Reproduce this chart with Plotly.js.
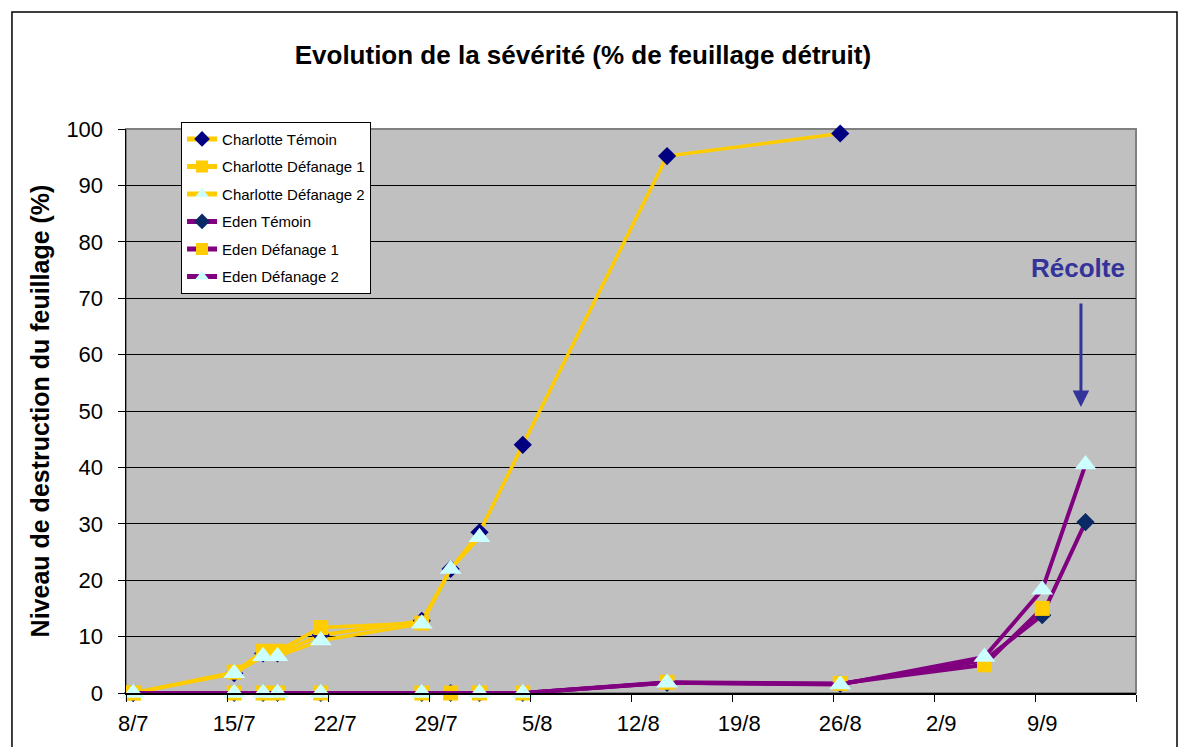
<!DOCTYPE html>
<html>
<head>
<meta charset="utf-8">
<script src="https://cdn.plot.ly/plotly-3.0.1.min.js"></script>
<style>html,body{margin:0;padding:0;background:#fff;}#chart{width:1188px;height:747px;}</style>
</head>
<body>
<div id="chart"></div>
<script>
// Dates of observation
const datesCharlotteTemoin = ['2009-07-08','2009-07-15','2009-07-17','2009-07-18','2009-07-21','2009-07-28','2009-07-30','2009-08-01','2009-08-04','2009-08-14','2009-08-26'];
const valCharlotteTemoin   = [0, 3.5, 7, 7, 10.3, 12.8, 22, 28.5, 44, 95.2, 99.2];

const datesCharlotteDef1 = ['2009-07-08','2009-07-15','2009-07-17','2009-07-18','2009-07-21','2009-07-28'];
const valCharlotteDef1   = [0, 3.7, 7.4, 7.4, 11.6, 12.4];

const datesCharlotteDef2 = ['2009-07-08','2009-07-15','2009-07-17','2009-07-18','2009-07-21','2009-07-28','2009-07-30','2009-08-01'];
const valCharlotteDef2   = [0, 3.5, 6.5, 6.5, 9.3, 12.3, 22, 27.6];

const datesEdenTemoin = ['2009-07-08','2009-07-15','2009-07-17','2009-07-18','2009-07-21','2009-07-28','2009-07-30','2009-08-01','2009-08-04','2009-08-14','2009-08-26','2009-09-05','2009-09-09','2009-09-12'];
const valEdenTemoin   = [0, 0, 0, 0, 0, 0, 0, 0, 0, 1.8, 1.6, 5.8, 13.8, 30.3];

const datesEdenDef1 = ['2009-07-08','2009-07-15','2009-07-17','2009-07-18','2009-07-21','2009-07-28','2009-07-30','2009-08-01','2009-08-04','2009-08-14','2009-08-26','2009-09-05','2009-09-09'];
const valEdenDef1   = [0, 0, 0, 0, 0, 0, 0, 0, 0, 1.9, 1.7, 5.0, 15.0];

const datesEdenDef2 = ['2009-07-08','2009-07-15','2009-07-17','2009-07-18','2009-07-21','2009-07-28','2009-08-01','2009-08-04','2009-08-14','2009-08-26','2009-09-05','2009-09-09','2009-09-12'];
const valEdenDef2   = [0, 0, 0, 0, 0, 0, 0, 0, 1.8, 1.5, 6.4, 18.3, 40.5];

const seriesNames = ['Charlotte Témoin','Charlotte Défanage 1','Charlotte Défanage 2','Eden Témoin','Eden Défanage 1','Eden Défanage 2'];

const tickDates  = ['2009-07-08','2009-07-15','2009-07-22','2009-07-29','2009-08-05','2009-08-12','2009-08-19','2009-08-26','2009-09-02','2009-09-09'];
const tickLabels = ['8/7','15/7','22/7','29/7','5/8','12/8','19/8','26/8','2/9','9/9'];

const yellow = '#FFCC00', purple = '#800080';
const diamond = (c) => ({symbol:'diamond', size:14, color:c, line:{width:0}});
const square = {symbol:'square', size:15, color:'#FFCC00', line:{width:0}};
const tri = {symbol:'triangle-up', size:19, color:'#CCFFFF', line:{width:0}};

function tr(i, x, y, lc, lw, mk){
  return {x:x, y:y, type:'scatter', mode:'lines+markers', name:seriesNames[i],
    legendgroup:'g'+i, line:{color:lc, width:lw}, marker:mk, cliponaxis:false};
}

const data = [
  tr(0, datesCharlotteTemoin, valCharlotteTemoin, yellow, 3.5, diamond('#000080')),
  tr(1, datesCharlotteDef1, valCharlotteDef1, yellow, 3.5, square),
  tr(2, datesCharlotteDef2, valCharlotteDef2, yellow, 3.5, tri),
  tr(3, datesEdenTemoin, valEdenTemoin, purple, 4, diamond('#0A2A66')),
  tr(4, datesEdenDef1, valEdenDef1, purple, 4, square),
  tr(5, datesEdenDef2, valEdenDef2, purple, 4, tri)
];

const F = 'Liberation Sans, Arial, sans-serif';
const layout = {
  width:1188, height:747,
  margin:{l:126, r:52, t:129, b:54},
  paper_bgcolor:'#ffffff', plot_bgcolor:'#C0C0C0',
  font:{family:F, color:'#000', size:22},
  title:{text:'<b>Evolution de la sévérité (% de feuillage détruit)</b>', font:{family:F, size:26, color:'#000'},
    xref:'container', yref:'container', x:0.4907, y:0.926, xanchor:'center', yanchor:'middle'},
  showlegend:true,
  legend:{x:0.0545, y:1.013, xanchor:'left', yanchor:'top', bgcolor:'#ffffff', bordercolor:'#000', borderwidth:1,
    font:{family:F, size:15, color:'#000'}, tracegroupgap:5, traceorder:'grouped', itemsizing:'constant'},
  xaxis:{type:'date', range:['2009-07-07 12:00','2009-09-15 12:00'],
    tickvals:tickDates, ticktext:tickLabels, ticks:'', showgrid:false, zeroline:false,
    showline:true, linecolor:'#000', linewidth:1.5, ticklabelstandoff:10,
    tickfont:{family:F, size:22, color:'#000'},
    minor:{tick0:'2009-07-07 12:00', dtick:7*86400000, ticks:'outside', ticklen:7, tickcolor:'#000', tickwidth:1, showgrid:false}},
  yaxis:{range:[0,100], dtick:10, ticks:'outside', ticklen:7, tickcolor:'#000',
    showgrid:true, gridcolor:'#000', gridwidth:1, zeroline:false,
    showline:true, linecolor:'#000', linewidth:1.5, ticklabelstandoff:10,
    tickfont:{family:F, size:22, color:'#000'},
    title:{text:'<b>Niveau de destruction du feuillage (%)</b>', font:{family:F, size:25, color:'#000'}, standoff:9}},
  shapes:[
    {type:'rect', xref:'paper', yref:'paper', x0:0, x1:1, y0:0, y1:1, line:{color:'#808080', width:2}, layer:'below'},
    {type:'rect', xref:'paper', yref:'paper', x0:-0.1129, x1:1.0406, y0:-0.2, y1:1.2074, line:{color:'#000', width:1.5}}
  ],
  annotations:[
    {xref:'paper', yref:'paper', x:0.9426, y:0.7535, text:'<b>Récolte</b>', showarrow:false,
      font:{family:F, size:26, color:'#333399'}, xanchor:'center', yanchor:'middle'},
    {xref:'paper', yref:'paper', x:0.9455, y:0.507, text:'', showarrow:true, ax:0, ay:-105,
      arrowhead:2, arrowsize:1.1, arrowwidth:3, arrowcolor:'#333399'}
  ]
};

Plotly.newPlot('chart', data, layout, {displayModeBar:false, staticPlot:true});
</script>
</body>
</html>
